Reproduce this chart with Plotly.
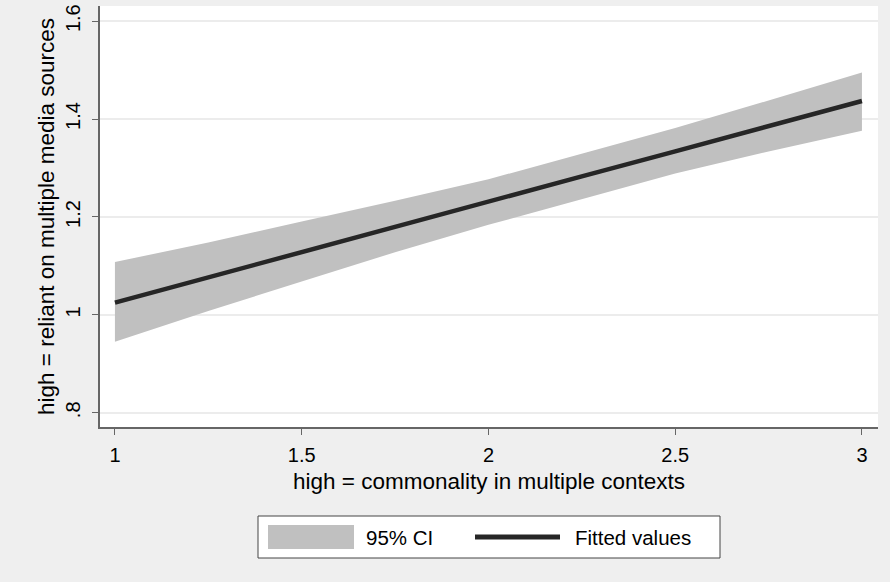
import plotly.graph_objects as go

# x positions where values were read
x_vals = [1.0, 1.25, 1.5, 1.75, 2.0, 2.25, 2.5, 2.75, 3.0]
fitted = [1.025, 1.077, 1.129, 1.180, 1.231, 1.283, 1.334, 1.386, 1.437]
ci_low = [0.945, 1.008, 1.068, 1.128, 1.184, 1.237, 1.289, 1.334, 1.376]
ci_high = [1.108, 1.148, 1.191, 1.233, 1.277, 1.329, 1.382, 1.438, 1.495]

y_ticks = [0.8, 1.0, 1.2, 1.4, 1.6]
y_ticktext = [".8", "1", "1.2", "1.4", "1.6"]
x_ticks = [1, 1.5, 2, 2.5, 3]
x_ticktext = ["1", "1.5", "2", "2.5", "3"]
legend_labels = ["95% CI", "Fitted values"]

FONT = "Liberation Sans, Arial, sans-serif"
BAND = "#c0c0c0"
LINE = "#262626"

W, H = 890, 582
ML, MR, MT, MB = 100, 12, 6, 155
PW, PH = W - ML - MR, H - MT - MB


def px(xp):
    return (xp - ML) / PW


def py(yp):
    return (H - MB - yp) / PH


fig = go.Figure()
fig.add_trace(go.Scatter(x=x_vals, y=ci_low, mode="lines", line=dict(width=0, color=BAND),
                         showlegend=False, hoverinfo="skip"))
fig.add_trace(go.Scatter(x=x_vals, y=ci_high, mode="lines", line=dict(width=0, color=BAND),
                         fill="tonexty", fillcolor=BAND, name=legend_labels[0], showlegend=False))
fig.add_trace(go.Scatter(x=x_vals, y=fitted, mode="lines", line=dict(width=4.5, color=LINE),
                         name=legend_labels[1], showlegend=False))

# legend box drawn manually (Stata-style)
shapes = [
    dict(type="rect", xref="paper", yref="paper", x0=px(258), x1=px(720), y0=py(558), y1=py(516),
         fillcolor="#ffffff", line=dict(color="#444444", width=1)),
    dict(type="rect", xref="paper", yref="paper", x0=px(268), x1=px(354), y0=py(549), y1=py(525),
         fillcolor=BAND, line=dict(width=0)),
    dict(type="line", xref="paper", yref="paper", x0=px(475), x1=px(560), y0=py(537), y1=py(537),
         line=dict(color=LINE, width=5)),
]
annotations = [
    dict(text=legend_labels[0], xref="paper", yref="paper", x=px(364), y=py(537), xanchor="left",
         yanchor="middle", showarrow=False, font=dict(size=20.5, family=FONT, color="#000000")),
    dict(text=legend_labels[1], xref="paper", yref="paper", x=px(573), y=py(537), xanchor="left",
         yanchor="middle", showarrow=False, font=dict(size=20.5, family=FONT, color="#000000")),
]

fig.update_layout(
    width=W, height=H,
    paper_bgcolor="#efefef", plot_bgcolor="#ffffff",
    margin=dict(l=ML, r=MR, t=MT, b=MB),
    font=dict(family=FONT, color="#000000", size=20),
    showlegend=False,
    shapes=shapes, annotations=annotations,
    xaxis=dict(range=[0.96, 3.043], tickvals=x_ticks, ticktext=x_ticktext, showgrid=False, zeroline=False,
               showline=True, linecolor="#666666", linewidth=1.5, ticks="outside", ticklen=6, tickcolor="#666666",
               tickfont=dict(size=20), automargin=False, ticklabelstandoff=3,
               title=dict(text="high = commonality in multiple contexts", font=dict(size=22.5), standoff=8)),
    yaxis=dict(range=[0.771, 1.631], tickvals=y_ticks, ticktext=y_ticktext, showgrid=True, gridcolor="#ececec",
               gridwidth=1.5, zeroline=False, showline=True, linecolor="#666666", linewidth=1.5,
               ticks="outside", ticklen=6, tickcolor="#666666", tickangle=-90, tickfont=dict(size=20),
               automargin=False, ticklabelstandoff=4,
               title=dict(text="high = reliant on multiple media sources", font=dict(size=22.5), standoff=1)),
)

fig.write_html("out.html", config={"displayModeBar": False},
               post_script="document.body.style.margin='0px';")
